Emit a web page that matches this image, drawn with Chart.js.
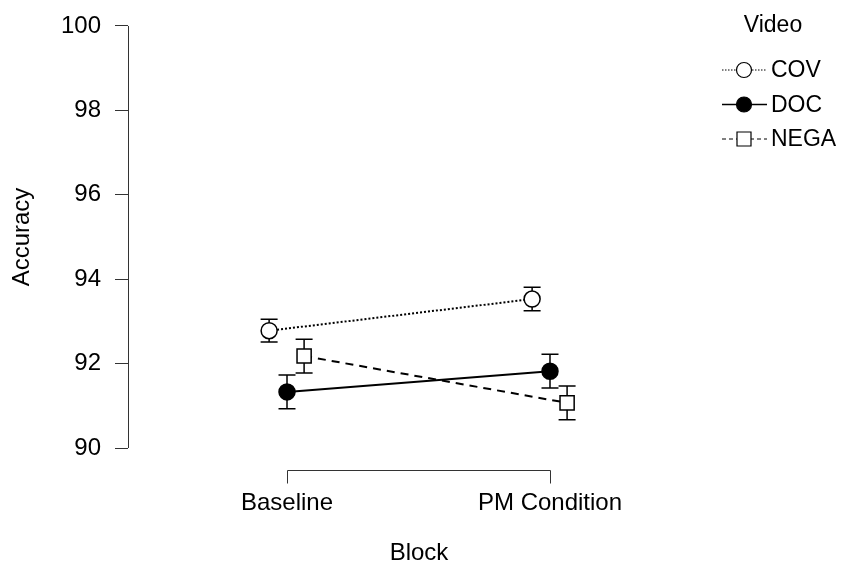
<!DOCTYPE html>
<html>
<head>
<meta charset="utf-8">
<script src="https://cdn.jsdelivr.net/npm/chart.js@4.4.1/dist/chart.umd.min.js"></script>
<style>
  html, body { margin: 0; padding: 0; background: #fff; }
  #wrap { width: 841px; height: 562px; }
</style>
</head>
<body>
<div id="wrap"><canvas id="chart"></canvas></div>
<script>
// categories on the x axis and series in the legend
const categories = ['Baseline', 'PM Condition'];
const series = ['COV', 'DOC', 'NEGA'];

// mean accuracy per block
const covValues = [92.78, 93.53];
const docValues = [91.33, 91.82];
const negaValues = [92.18, 91.07];

// half-length of the error bars
const covErrors = [0.27, 0.28];
const docErrors = [0.40, 0.40];
const negaErrors = [0.40, 0.40];

// horizontal dodge of each series around the category
const dodge = [-0.068, 0, 0.065];

const yTicks = [90, 92, 94, 96, 98, 100];

const FONT = "'Liberation Sans', Arial, Helvetica, sans-serif";
const INK = '#000';
const AXIS = '#333';

const allValues = [covValues, docValues, negaValues];
const allErrors = [covErrors, docErrors, negaErrors];

const styles = [
    { dash: [2, 2], legendDash: [1.5, 1.5], point: 'circle', radius: 8, fill: '#fff' },
    { dash: [], legendDash: [], point: 'circle', radius: 8, fill: '#000' },
    { dash: [8, 6], legendDash: [4, 3], point: 'rect', radius: 10, fill: '#fff' }
];

const datasets = series.map((name, i) => ({
    label: name,
    data: allValues[i].map((v, j) => ({ x: j + dodge[i], y: v })),
    errors: allErrors[i],
    borderColor: INK,
    borderWidth: 2,
    borderDash: styles[i].dash,
    pointStyle: styles[i].point,
    pointRadius: styles[i].radius,
    pointBackgroundColor: styles[i].fill,
    pointBorderColor: INK,
    pointBorderWidth: 1.5,
    fill: false,
    tension: 0
}));

// error bars, drawn under the markers
const errorBars = {
    id: 'errorBars',
    beforeDatasetsDraw(chart) {
        const ctx = chart.ctx;
        const yScale = chart.scales.y;
        const cap = 8.5;
        ctx.save();
        ctx.strokeStyle = INK;
        ctx.lineWidth = 1.5;
        ctx.setLineDash([]);
        chart.data.datasets.forEach((ds, i) => {
            const meta = chart.getDatasetMeta(i);
            ds.data.forEach((pt, j) => {
                const x = meta.data[j].x;
                const top = yScale.getPixelForValue(pt.y + ds.errors[j]);
                const bottom = yScale.getPixelForValue(pt.y - ds.errors[j]);
                ctx.beginPath();
                ctx.moveTo(x, top);
                ctx.lineTo(x, bottom);
                ctx.moveTo(x - cap, top);
                ctx.lineTo(x + cap, top);
                ctx.moveTo(x - cap, bottom);
                ctx.lineTo(x + cap, bottom);
                ctx.stroke();
            });
        });
        ctx.restore();
    }
};

// R style axis lines that only span the ticks
const bracketAxes = {
    id: 'bracketAxes',
    afterDraw(chart) {
        const ctx = chart.ctx;
        const { x: xScale, y: yScale } = chart.scales;
        const area = chart.chartArea;
        ctx.save();
        ctx.strokeStyle = AXIS;
        ctx.lineWidth = 1;
        ctx.setLineDash([]);

        const yx = Math.round(area.left) + 0.5;
        ctx.beginPath();
        ctx.moveTo(yx, yScale.getPixelForValue(yTicks[0]));
        ctx.lineTo(yx, yScale.getPixelForValue(yTicks[yTicks.length - 1]));
        ctx.stroke();

        const xy = Math.round(area.bottom) + 0.5;
        const x0 = Math.round(xScale.getPixelForValue(0)) + 0.5;
        const x1 = Math.round(xScale.getPixelForValue(categories.length - 1)) + 0.5;
        ctx.beginPath();
        ctx.moveTo(x0, xy + 13);
        ctx.lineTo(x0, xy);
        ctx.lineTo(x1, xy);
        ctx.lineTo(x1, xy + 13);
        ctx.stroke();
        ctx.restore();
    }
};

// legend with line + marker keys, title "Video"
const keyLegend = {
    id: 'keyLegend',
    afterDraw(chart) {
        const ctx = chart.ctx;
        const left = chart.chartArea.right + 12;
        ctx.save();
        ctx.fillStyle = INK;
        ctx.font = `23px ${FONT}`;
        ctx.textBaseline = 'middle';
        ctx.textAlign = 'center';
        ctx.fillText('Video', left + 51, 26);

        chart.data.datasets.forEach((ds, i) => {
            const y = 70 + i * 34.5;
            const cx = left + 22;
            ctx.strokeStyle = INK;
            ctx.lineWidth = i === 1 ? 1.5 : 1;
            ctx.setLineDash(styles[i].legendDash);
            ctx.beginPath();
            ctx.moveTo(left, y);
            ctx.lineTo(left + 45, y);
            ctx.stroke();
            ctx.setLineDash([]);
            ctx.lineWidth = 1.2;
            ctx.fillStyle = styles[i].fill;
            ctx.beginPath();
            if (styles[i].point === 'circle') {
                ctx.arc(cx, y, 7.5, 0, Math.PI * 2);
            } else {
                ctx.rect(cx - 7, y - 7, 14, 14);
            }
            ctx.fill();
            ctx.stroke();
            ctx.fillStyle = INK;
            ctx.textAlign = 'left';
            ctx.fillText(ds.label, left + 49, y + 1);
        });
        ctx.restore();
    }
};

const ctx = document.getElementById('chart').getContext('2d');
new Chart(ctx, {
    type: 'line',
    data: { datasets },
    options: {
        responsive: true,
        maintainAspectRatio: false,
        animation: false,
        layout: {
            autoPadding: false,
            padding: { top: 4, right: 131, left: 0, bottom: 0 }
        },
        scales: {
            x: {
                type: 'linear',
                min: -0.6046,
                max: 1.6084,
                afterBuildTicks: scale => {
                    scale.ticks = categories.map((_, i) => ({ value: i }));
                },
                afterFit: scale => {
                    scale.height = 92;
                    scale.paddingLeft = 0;
                    scale.paddingRight = 0;
                },
                grid: { display: false, drawTicks: false, tickLength: 0 },
                border: { display: false },
                ticks: {
                    padding: 19,
                    color: INK,
                    font: { family: FONT, size: 24 },
                    maxRotation: 0,
                    callback: value => categories[value]
                },
                title: {
                    display: true,
                    text: 'Block',
                    color: INK,
                    font: { family: FONT, size: 24 },
                    padding: { top: 0, bottom: -6 }
                }
            },
            y: {
                min: 89.479,
                max: 100.521,
                afterBuildTicks: scale => {
                    scale.ticks = yTicks.map(v => ({ value: v }));
                },
                afterFit: scale => {
                    scale.width = 128;
                    scale.paddingTop = 0;
                    scale.paddingBottom = 0;
                },
                grid: {
                    drawOnChartArea: false,
                    drawTicks: true,
                    tickLength: 13,
                    color: AXIS,
                    lineWidth: 1
                },
                border: { display: false },
                ticks: {
                    padding: 14,
                    color: INK,
                    font: { family: FONT, size: 24 }
                },
                title: {
                    display: true,
                    text: 'Accuracy',
                    color: INK,
                    font: { family: FONT, size: 24 },
                    padding: { top: 7.5, bottom: 0 }
                }
            }
        },
        plugins: {
            legend: { display: false },
            tooltip: { enabled: false }
        }
    },
    plugins: [errorBars, bracketAxes, keyLegend]
});
</script>
</body>
</html>
